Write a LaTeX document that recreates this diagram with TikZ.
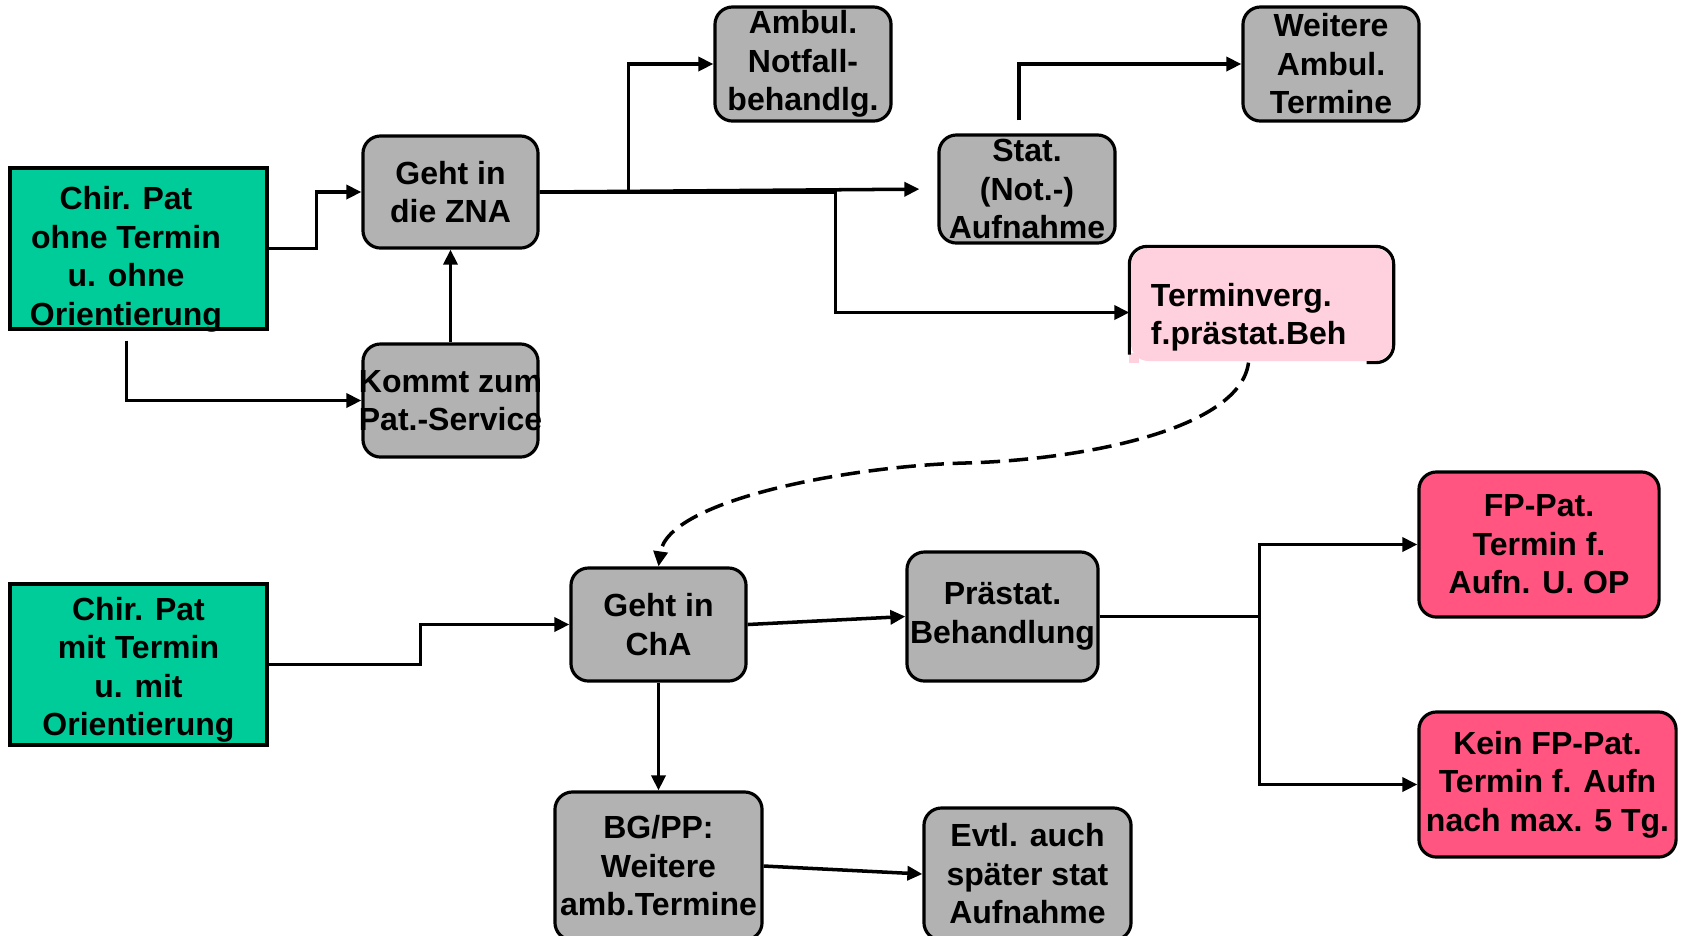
\documentclass[tikz,border=0pt]{standalone}
\usepackage{fontspec}
\setmainfont{Liberation Sans}
\usetikzlibrary{arrows.meta}

\definecolor{patgreen}{RGB}{0,204,153}
\definecolor{boxgray}{RGB}{178,178,178}
\definecolor{lightpink}{RGB}{255,209,222}
\definecolor{hotpink}{RGB}{255,85,128}

\tikzset{
    box/.style={draw,line width=0.9pt,rounded corners=5pt,fill=boxgray,align=center,
        inner xsep=-2pt,inner ysep=0pt,font=\bfseries\fontsize{9.1}{10.95}\selectfont},
    patbox/.style={box,sharp corners,fill=patgreen},
    fpbox/.style={box,fill=hotpink},
    boxtext/.style={align=center,inner sep=0pt,font=\bfseries\fontsize{9.1}{10.95}\selectfont},
    conn/.style={line width=1pt,-{Triangle[length=0.15cm,width=0.14cm]}},
    link/.style={line width=1pt}
}

\begin{document}
\begin{tikzpicture}[x=0.01cm,y=-0.01cm]
    \useasboundingbox (0,0) rectangle (1682,935);

    % upper part: without appointment
    \node[patbox,minimum width=2.57cm,minimum height=1.61cm] (chirO) at (138.5,248.5) {};
    \node[boxtext] (chirOtext) at (126,259.3) {Chir. Pat\\ohne Termin\\u. ohne\\Orientierung};
    \node[box,minimum width=1.75cm,minimum height=1.12cm] (zna) at (450.5,192) {Geht in\\die ZNA};
    \node[box,minimum width=1.75cm,minimum height=1.13cm] (kommt) at (450.5,400.5) {Kommt zum\\Pat.-Service};
    \node[box,minimum width=1.76cm,minimum height=1.14cm] (notfall) at (803,64) {Ambul.\\Notfall-\\behandlg.};
    \node[box,minimum width=1.76cm,minimum height=1.08cm] (stat) at (1027,189) {Stat.\\(Not.-)\\Aufnahme};
    \node[box,minimum width=1.76cm,minimum height=1.14cm] (weitere) at (1331,64) {Weitere\\Ambul.\\Termine};
    \node[box,draw=none,fill=lightpink,align=left,text width=2.21cm,inner xsep=0.2cm,minimum height=1.13cm,text height=7pt,text depth=6pt] (terminv) at (1261.5,304.5) {Terminverg.\\f.prästat.Beh};
    \fill[lightpink] (terminv.south west) rectangle ++(10,-10);
    \draw[line width=0.9pt,rounded corners=5pt] ([yshift=0.08cm]terminv.south west) |- (terminv.north east) |- ([xshift=-0.27cm]terminv.south east);

    % lower part: with appointment
    \node[patbox,minimum width=2.57cm,minimum height=1.61cm,text height=42.6pt,text depth=2pt] (chirM) at (138.5,664.5) {Chir. Pat\\mit Termin\\u. mit\\Orientierung};
    \node[box,minimum width=1.75cm,minimum height=1.13cm] (cha) at (658.5,624.5) {Geht in\\ChA};
    \node[box,minimum width=1.91cm,minimum height=1.29cm] (praestat) at (1002.5,616.5) {Prästat.\\Behandlung};
    \node[fpbox,minimum width=2.40cm,minimum height=1.45cm] (fp) at (1539,544.5) {FP-Pat.\\Termin f.\\Aufn. U. OP};
    \node[fpbox,minimum width=2.57cm,minimum height=1.45cm] (keinfp) at (1547.5,784.5) {Kein FP-Pat.\\Termin f. Aufn\\nach max. 5 Tg.};
    \node[box,minimum width=2.07cm,minimum height=1.48cm] (bgpp) at (658.5,866) {BG/PP:\\Weitere\\amb.Termine};
    \node[box,minimum width=2.07cm,minimum height=1.32cm] (evtl) at (1027.5,874) {Evtl. auch\\später stat\\Aufnahme};

    % connectors
    \draw[conn] (chirO.east) -- ++(48,0) |- (zna.west);
    \draw[conn] ([xshift=-0.12cm,yshift=-0.1cm]chirO.south) |- (kommt.west);
    \draw[conn] (kommt.north) -- (zna.south);
    \draw[conn] (zna.east) -- ++(89,0) |- (notfall.west);
    \draw[conn,shorten >=0.18cm] (zna.east) -- (stat.west);
    \draw[conn] (zna.east) -- ++(296,0) |- ([yshift=-0.08cm]terminv.west);
    \draw[conn] ([xshift=-0.08cm,yshift=0.13cm]stat.north) |- (weitere.west);
    \draw[conn,dash pattern=on 5.5pt off 2.5pt] ([xshift=-0.13cm]terminv.south) .. controls (1240,430) and (1080,460) .. (965,463)
        .. controls (850,466) and (668,500) .. (cha.north);

    \draw[conn] (chirM.east) -- ++(152,0) |- (cha.west);
    \draw[conn] (cha.east) -- (praestat.west);
    \draw[conn] (cha.south) -- (bgpp.north);
    \draw[conn] (bgpp.east) -- (evtl.west);
    \draw[link] (praestat.east) -- ++(160,0) coordinate (fork);
    \draw[conn] (fork) |- (fp.west);
    \draw[conn] (fork) |- (keinfp.west);

\end{tikzpicture}
\end{document}
